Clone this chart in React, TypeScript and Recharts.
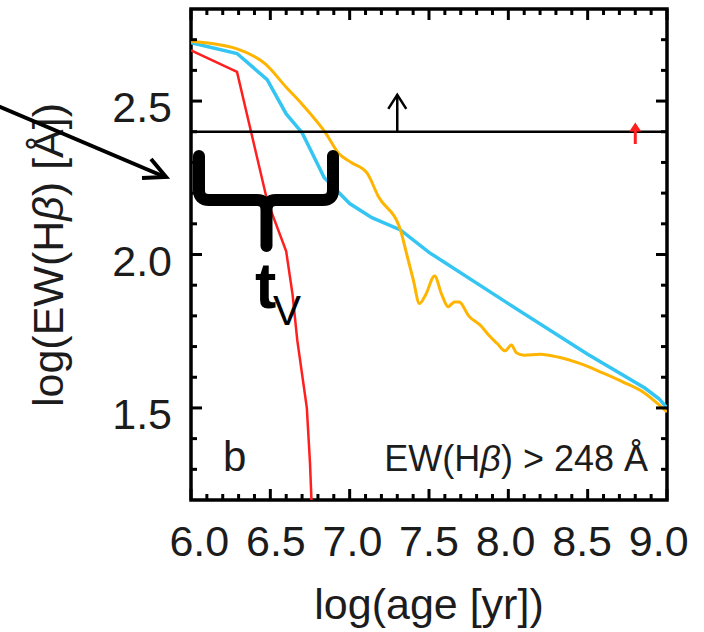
import { LineChart, Line, XAxis, YAxis, ReferenceLine, ReferenceDot, ReferenceArea } from "recharts";

// axis ticks: minor every 0.1, labelled every 0.5
const ageTicks = [
  6.0, 6.1, 6.2, 6.3, 6.4, 6.5, 6.6, 6.7, 6.8, 6.9, 7.0, 7.1, 7.2, 7.3, 7.4, 7.5,
  7.6, 7.7, 7.8, 7.9, 8.0, 8.1, 8.2, 8.3, 8.4, 8.5, 8.6, 8.7, 8.8, 8.9, 9.0,
];
const ageMajor = [6.0, 6.5, 7.0, 7.5, 8.0, 8.5, 9.0];
const ewTicks = [1.3, 1.4, 1.5, 1.6, 1.7, 1.8, 1.9, 2.0, 2.1, 2.2, 2.3, 2.4, 2.5, 2.6, 2.7];
const ewMajor = [1.5, 2.0, 2.5];

// [log age, log EW(Hb)]
const redTrack: [number, number][] = [
  [6.0, 2.665], [6.29, 2.595], [6.48, 2.176], [6.6, 2.01], [6.64, 1.87],
  [6.67, 1.72], [6.7, 1.61], [6.73, 1.5], [6.75, 1.32], [6.76, 1.19],
];
const cyanTrack: [number, number][] = [
  [6.0, 2.69], [6.29, 2.655], [6.48, 2.57], [6.6, 2.458], [6.7, 2.397],
  [6.84, 2.25], [7.0, 2.166], [7.14, 2.12], [7.32, 2.08], [7.5, 2.007],
  [8.0, 1.84], [8.5, 1.675], [8.86, 1.565], [8.95, 1.53], [9.0, 1.5],
];
const orangeTrack: [number, number][] = [
  [6.0, 2.695], [6.29, 2.67], [6.47, 2.62], [6.6, 2.545], [6.7, 2.49],
  [6.85, 2.395], [6.93, 2.33], [7.01, 2.3], [7.11, 2.265], [7.18, 2.19],
  [7.32, 2.08], [7.36, 2.0], [7.4, 1.92], [7.44, 1.84], [7.48, 1.87],
  [7.535, 1.93], [7.58, 1.87], [7.62, 1.83], [7.66, 1.845], [7.69, 1.845],
  [7.75, 1.8], [7.83, 1.766], [7.88, 1.735], [7.93, 1.71], [7.98, 1.686],
  [8.02, 1.705], [8.05, 1.68], [8.1, 1.672], [8.2, 1.675], [8.32, 1.665],
  [8.45, 1.645], [8.59, 1.615], [8.72, 1.585], [8.86, 1.548], [8.95, 1.51],
  [9.0, 1.487],
];

const thresholdEW = 2.4;
const blackArrowAge = 7.3;
const blackArrowTop = 2.52;
const redArrowAge = 8.8;
const redArrowLow = 2.36;
const redArrowTop = 2.43;

const FONT = "'Liberation Sans', Arial, Helvetica, sans-serif";
const INK = "#1c1c1c";

const toPoints = (t: [number, number][]) => t.map(([x, y]) => ({ x, y }));
const isMajor = (v: number, list: number[]) => list.some((m) => Math.abs(m - v) < 1e-6);

function AgeLabel({ x, y, payload }: any) {
  if (!isMajor(payload.value, ageMajor)) return <g />;
  return (
    <text x={x + (429 - x) * 0.035} y={y + 56} textAnchor="middle" fontSize={43} fontFamily={FONT} fill={INK}>
      {payload.value.toFixed(1)}
    </text>
  );
}

// inward tick stubs at both ends of a full-height / full-width reference line
function VStubs(p: any) {
  const top = Math.min(p.y1, p.y2);
  const bot = Math.max(p.y1, p.y2);
  const len = p.len;
  return (
    <g stroke="#000" strokeWidth={3}>
      <line x1={p.x1} x2={p.x1} y1={bot} y2={bot - len} />
      <line x1={p.x1} x2={p.x1} y1={top} y2={top + len} />
    </g>
  );
}
function HStubs(p: any) {
  const l = Math.min(p.x1, p.x2);
  const r = Math.max(p.x1, p.x2);
  const len = p.len;
  return (
    <g>
      <g stroke="#000" strokeWidth={3}>
        <line x1={l} x2={l + len} y1={p.y1} y2={p.y1} />
        <line x1={r} x2={r - len} y1={p.y1} y2={p.y1} />
      </g>
      {p.label && (
        <text x={l - 19} y={p.y1 + 21} textAnchor="end" fontSize={43} fontFamily={FONT} fill={INK}>
          {p.label}
        </text>
      )}
    </g>
  );
}

export default function App() {
  return (
    <div style={{ position: "absolute", left: 0, top: 0, width: 704, height: 632, background: "#fff" }}>
      <LineChart width={704} height={632} margin={{ top: 9, right: 37, left: 0, bottom: 0 }}>
        <XAxis
          dataKey="x"
          type="number"
          domain={[6.0, 9.0]}
          ticks={ageTicks}
          interval={0}
          height={132}
          tickSize={0}
          tickMargin={0}
          tickLine={false}
          axisLine={false}
          tick={<AgeLabel />}
          allowDataOverflow
        />
        <YAxis
          type="number"
          domain={[1.2, 2.8]}
          ticks={ewTicks}
          interval={0}
          width={191}
          tickLine={false}
          axisLine={false}
          tick={false}
          allowDataOverflow
        />

        <Line data={toPoints(redTrack)} dataKey="y" type="linear" stroke="#ff1f1f" strokeWidth={2.5} dot={false} isAnimationActive={false} />
        <Line data={toPoints(cyanTrack)} dataKey="y" type="linear" stroke="#34c5f3" strokeWidth={3.5} dot={false} isAnimationActive={false} />
        <Line data={toPoints(orangeTrack)} dataKey="y" type="monotone" stroke="#ffb400" strokeWidth={3} dot={false} isAnimationActive={false} />

        {ageTicks.map((v) => (
          <ReferenceLine
            key={`xt${v}`}
            x={v}
            shape={(p: any) => <VStubs {...p} len={isMajor(v, ageMajor) ? 11 : 6} />}
          />
        ))}
        {ewTicks.map((v) => (
          <ReferenceLine
            key={`yt${v}`}
            y={v}
            shape={(p: any) => (
              <HStubs
                {...p}
                len={isMajor(v, ewMajor) ? 11 : 6}
                label={isMajor(v, ewMajor) ? v.toFixed(1) : ""}
              />
            )}
          />
        ))}

        <ReferenceLine y={thresholdEW} stroke="#000" strokeWidth={2.5} />
        <ReferenceLine
          segment={[{ x: blackArrowAge, y: thresholdEW }, { x: blackArrowAge, y: blackArrowTop }]}
          stroke="#000"
          strokeWidth={2.5}
        />
        <ReferenceDot
          x={blackArrowAge}
          y={blackArrowTop}
          shape={(p: any) => (
            <polyline
              points={`${p.cx - 9},${p.cy + 14} ${p.cx},${p.cy} ${p.cx + 9},${p.cy + 14}`}
              fill="none"
              stroke="#000"
              strokeWidth={2.5}
            />
          )}
        />
        <ReferenceLine
          segment={[{ x: redArrowAge, y: redArrowLow }, { x: redArrowAge, y: redArrowTop - 0.02 }]}
          stroke="#ff1f1f"
          strokeWidth={3}
        />
        <ReferenceDot
          x={redArrowAge}
          y={redArrowTop}
          shape={(p: any) => (
            <polygon points={`${p.cx - 6},${p.cy + 9} ${p.cx},${p.cy} ${p.cx + 6},${p.cy + 9}`} fill="#ff1f1f" />
          )}
        />

        <ReferenceArea x1={6.0} x2={9.0} y1={1.2} y2={2.8} fill="none" fillOpacity={0} stroke="#000" strokeWidth={3.5} />
      </LineChart>

      <svg
        width={704}
        height={632}
        style={{ position: "absolute", left: 0, top: 0, pointerEvents: "none" }}
        fontFamily={FONT}
      >
        <text transform="translate(63,255) rotate(-90)" textAnchor="middle" fontSize={43} fill={INK}>
          log(EW(H<tspan fontStyle="italic">β</tspan>) [Å])
        </text>
        <text x={429} y={619} textAnchor="middle" fontSize={43} fill={INK}>
          log(age [yr])
        </text>
        <text x={223} y={471} fontSize={42} fill={INK}>
          b
        </text>
        <text x={648} y={471} textAnchor="end" fontSize={36} fill={INK}>
          EW(H<tspan fontStyle="italic">β</tspan>) &gt; 248 Å
        </text>

        {/* pointer arrow and brace marking t_V */}
        <line x1={-2} y1={106} x2={165} y2={177} stroke="#000" strokeWidth={4} />
        <polyline points="142,178 166,177 151,159" fill="none" stroke="#000" strokeWidth={4} strokeLinejoin="miter" />
        <path
          d="M199,156 L199,190 Q199,200 209,200 L257,200 Q266.5,200 266.5,210 L266.5,246 M333,156 L333,190 Q333,200 323,200 L276,200 Q266.5,200 266.5,210"
          fill="none"
          stroke="#000"
          strokeWidth={12}
          strokeLinecap="round"
          strokeLinejoin="round"
        />
        <text x={255} y={308} fontSize={64} fontWeight="bold" fill="#000">
          t
        </text>
        <text x={273} y={325} fontSize={42} fill="#000">
          V
        </text>
      </svg>
    </div>
  );
}
